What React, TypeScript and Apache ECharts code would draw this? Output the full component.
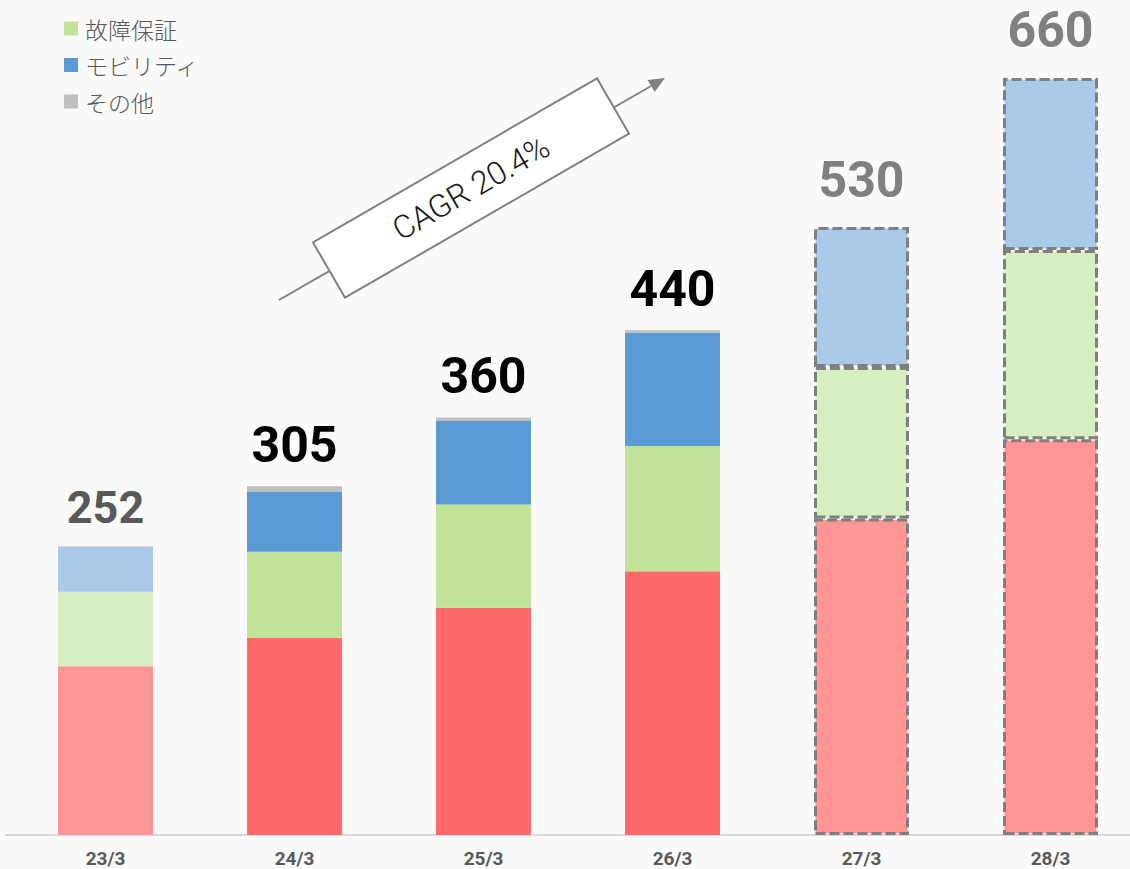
import React, { useEffect, useRef } from "react";
import * as echarts from "echarts";

const categories = ["23/3", "24/3", "25/3", "26/3", "27/3", "28/3"];
const baseValues = [147, 172, 198, 230, 276, 345];
const warrantyValues = [65, 75, 90, 109, 132, 165];
const mobilityValues = [39, 52, 73, 99, 122, 150];
const otherValues = [1, 5, 3, 2, 0, 0];
const totalLabels = [252, 305, 360, 440, 530, 660];
const legendNames = ["故障保証", "モビリティ", "その他"];
const cagrText = "CAGR 20.4%";

const fadedCats = [true, false, false, false, true, true];
const forecastCats = [false, false, false, false, true, true];
const labelColors = ["#595959", "#000000", "#000000", "#000000", "#808080", "#808080"];

const solid = { base: "#FF6969", warranty: "#C0E398", mobility: "#5B9BD5", other: "#BFBFBF" };
const light = { base: "#FF9595", warranty: "#D7EFC0", mobility: "#A9C9E8", other: "#D9D9D9" };

function makeData(values: number[], key: "base" | "warranty" | "mobility" | "other") {
  return values.map((v, i) => {
    const color = fadedCats[i] ? light[key] : solid[key];
    const itemStyle: any = { color };
    if (forecastCats[i]) {
      itemStyle.borderColor = "#7F7F7F";
      itemStyle.borderWidth = 3;
      itemStyle.borderType = [10, 4];
    }
    return { value: v === 0 && forecastCats[i] ? "-" : v, itemStyle };
  });
}

const CHART_W = 1160;

export default function App() {
  const ref = useRef<HTMLDivElement>(null);
  useEffect(() => {
    if (!ref.current) return;
    const chart = echarts.init(ref.current, undefined, { renderer: "svg" });
    const sums = categories.map(
      (_, i) => baseValues[i] + warrantyValues[i] + mobilityValues[i] + otherValues[i]
    );
    const font = "'Noto Sans CJK JP', 'Noto Sans', sans-serif";
    const numFont = "Roboto, 'Noto Sans', sans-serif";
    const ang = Math.PI / 6;
    const ux = Math.cos(ang), uy = -Math.sin(ang);
    const tip = [665, 78];
    const base = [tip[0] - 16 * ux, tip[1] - 16 * uy];
    const nx = Math.sin(ang), ny = Math.cos(ang);
    chart.setOption({
      animation: false,
      backgroundColor: "#FAFAFA",
      textStyle: { fontFamily: font },
      legend: {
        data: legendNames,
        orient: "vertical",
        left: 59,
        top: 12,
        icon: "rect",
        itemWidth: 14,
        itemHeight: 14,
        itemGap: 13.5,
        textStyle: { fontSize: 23, color: "#595959", fontFamily: font, fontWeight: 300, padding: [0, 0, 0, 2] },
        selectedMode: false,
      },
      grid: { left: 11, right: CHART_W - 1145, top: 32, bottom: 34, containLabel: false },
      xAxis: {
        type: "category",
        data: categories,
        axisLine: { lineStyle: { color: "#D9D9D9", width: 2 } },
        axisTick: { show: false },
        axisLabel: { color: "#595959", fontSize: 19, fontWeight: "bold", margin: 14, fontFamily: numFont },
      },
      yAxis: { type: "value", min: 0, max: 700, show: false, splitLine: { show: false } },
      series: [
        { name: "ベース", type: "bar", stack: "t", barWidth: 95, data: makeData(baseValues, "base") },
        { name: "故障保証", type: "bar", stack: "t", barWidth: 95, data: makeData(warrantyValues, "warranty"), itemStyle: { color: solid.warranty } },
        { name: "モビリティ", type: "bar", stack: "t", barWidth: 95, data: makeData(mobilityValues, "mobility"), itemStyle: { color: solid.mobility } },
        { name: "その他", type: "bar", stack: "t", barWidth: 95, data: makeData(otherValues, "other"), itemStyle: { color: solid.other } },
        {
          name: "total",
          type: "scatter",
          symbolSize: 1,
          silent: true,
          itemStyle: { color: "rgba(0,0,0,0)", opacity: 1 },
          z: 10,
          data: sums.map((s, i) => ({
            value: s,
            label: {
              show: true,
              position: "top",
              distance: forecastCats[i] ? 22 : i === 0 ? 15 : 16,
              formatter: () => String(totalLabels[i]),
              color: labelColors[i],
              fontSize: i === 0 ? 45 : 50,
              fontWeight: "bold",
              fontFamily: numFont,
            },
          })),
        },
      ],
      graphic: [
        {
          type: "line",
          z: 1,
          shape: { x1: 5, y1: 835, x2: 12, y2: 835 },
          style: { stroke: "#D9D9D9", lineWidth: 2 },
        },
        {
          type: "polyline",
          z: 1,
          shape: { points: [[279, 300], base] },
          style: { stroke: "#808080", lineWidth: 2, fill: null },
        },
        {
          type: "polygon",
          z: 1,
          shape: {
            points: [
              tip,
              [base[0] + 7 * nx, base[1] + 7 * ny],
              [base[0] - 7 * nx, base[1] - 7 * ny],
            ],
          },
          style: { fill: "#808080" },
        },
        {
          type: "rect",
          z: 2,
          x: 471,
          y: 188,
          rotation: ang,
          shape: { x: -164, y: -32, width: 328, height: 64 },
          style: { fill: "#FFFFFF", stroke: "#808080", lineWidth: 2 },
        },
        {
          type: "text",
          z: 3,
          x: 471,
          y: 188,
          rotation: ang,
          style: {
            text: cagrText,
            fontSize: 32,
            fontFamily: "Roboto, sans-serif",
            fontWeight: 300,
            fill: "#1A1A1A",
            align: "center",
            verticalAlign: "middle",
          },
        },
      ],
    });
    return () => chart.dispose();
  }, []);
  return (
    <div style={{ position: "fixed", left: 0, top: 0, width: 1130, height: 869, overflow: "hidden" }}>
      <div ref={ref} style={{ width: CHART_W, height: 869 }} />
    </div>
  );
}
